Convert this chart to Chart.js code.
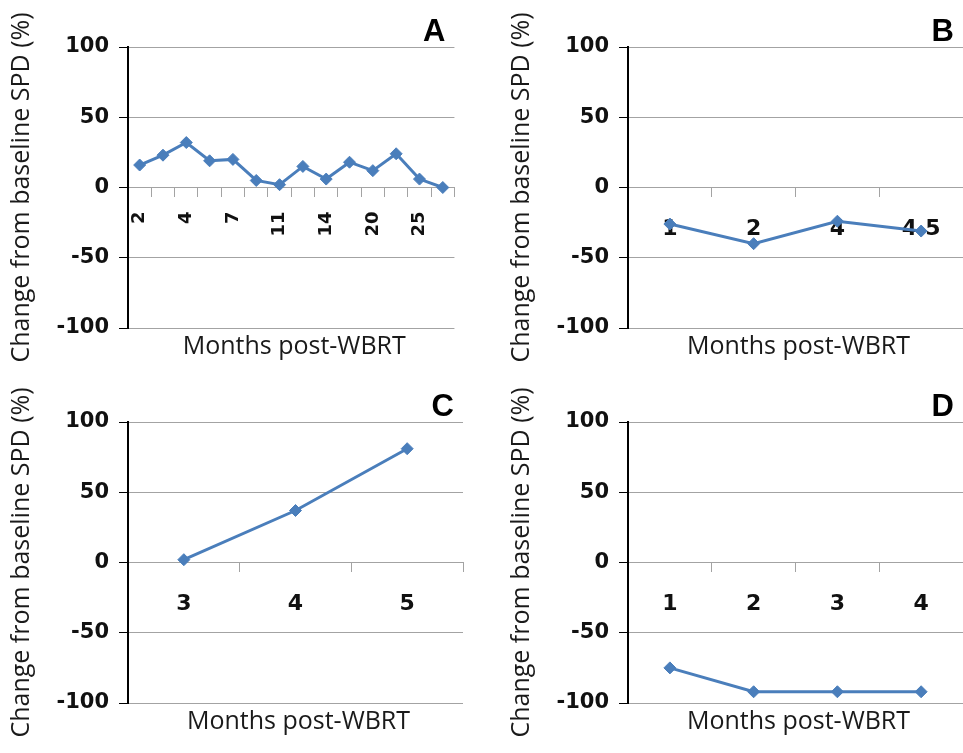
<!DOCTYPE html>
<html>
<head>
<meta charset="utf-8">
<script src="https://cdn.jsdelivr.net/npm/chart.js@4.4.1/dist/chart.umd.min.js"></script>
<style>
  html, body { margin: 0; padding: 0; background: #fff; overflow: hidden; }
  body { width: 963px; height: 753px; position: relative; }
  .panel { position: absolute; width: 480px; height: 378px; }
</style>
</head>
<body>
<div class="panel" style="left:0;top:0"><canvas id="chartA" width="480" height="378"></canvas></div>
<div class="panel" style="left:500px;top:0"><canvas id="chartB" width="480" height="378"></canvas></div>
<div class="panel" style="left:0;top:375px"><canvas id="chartC" width="480" height="378"></canvas></div>
<div class="panel" style="left:500px;top:375px"><canvas id="chartD" width="480" height="378"></canvas></div>
<script>
// months post-WBRT (only every other label is printed in panel A)
const labelsA = ['2', '', '4', '', '7', '', '11', '', '14', '', '20', '', '25', ''];
const valuesA = [16, 23, 32, 19, 20, 5, 2, 15, 6, 18, 12, 24, 6, 0];

const labelsB = ['1', '2', '4', '4.5'];
const valuesB = [-26, -40, -24, -31];

const labelsC = ['3', '4', '5'];
const valuesC = [2, 37, 81];

const labelsD = ['1', '2', '3', '4'];
const valuesD = [-75, -92, -92, -92];

const yTitle = 'Change from baseline SPD (%)';
const xTitle = 'Months post-WBRT';

const BLUE = '#4a7ebb';
const GRID = '#a3a3a3';

// panel letter + x axis title drawn under the plot
const extrasPlugin = {
  id: 'extras',
  afterDraw(chart, args, opts) {
    const { ctx, chartArea } = chart;
    ctx.save();
    ctx.fillStyle = '#000';
    ctx.font = 'bold 31px "Liberation Sans"';
    ctx.textAlign = 'right';
    ctx.textBaseline = 'alphabetic';
    ctx.fillText(opts.letter, chartArea.right - 9, 41);

    ctx.fillStyle = '#1a1a1a';
    ctx.font = '25px "Open Sans"';
    ctx.textAlign = 'center';
    ctx.textBaseline = 'middle';
    ctx.fillText(xTitle, (chartArea.left + chartArea.right) / 2 + 3, 347);
    ctx.restore();
  }
};

function makePanel(id, letter, labels, values, rotated) {
  const ctx = document.getElementById(id).getContext('2d');
  return new Chart(ctx, {
    type: 'line',
    data: {
      labels: labels,
      datasets: [{
        data: values,
        borderColor: BLUE,
        backgroundColor: BLUE,
        borderWidth: 3,
        tension: 0,
        pointStyle: 'rectRot',
        pointRadius: 6,
        pointBorderWidth: 1
      }]
    },
    options: {
      responsive: false,
      animation: false,
      devicePixelRatio: 1,
      layout: { padding: { top: 47, right: 17, bottom: 50, left: 0 } },
      plugins: {
        legend: { display: false },
        tooltip: { enabled: false },
        extras: { letter: letter }
      },
      scales: {
        x: {
          type: 'category',
          offset: true,
          position: { y: 0 },
          grid: { drawOnChartArea: false, offset: true, tickLength: 9, color: GRID },
          border: { color: GRID, width: 1 },
          ticks: {
            autoSkip: false,
            minRotation: rotated ? 90 : 0,
            maxRotation: rotated ? 90 : 0,
            padding: rotated ? 15 : 20,
            color: '#111',
            font: { family: 'DejaVu Sans', weight: 'bold', size: rotated ? 18 : 22 }
          }
        },
        y: {
          min: -100,
          max: 100,
          afterFit: s => { s.width = 128; },
          ticks: {
            stepSize: 50,
            padding: 10,
            color: '#111',
            font: { family: 'DejaVu Sans', weight: 'bold', size: 21 }
          },
          grid: { color: GRID, tickLength: 9, tickColor: '#000' },
          border: { color: '#000', width: 2 },
          title: {
            display: true,
            text: yTitle,
            color: '#1a1a1a',
            font: { family: 'Open Sans', size: 25 },
            padding: { top: 7, bottom: 0 }
          }
        }
      }
    },
    plugins: [extrasPlugin]
  });
}

makePanel('chartA', 'A', labelsA, valuesA, true);
makePanel('chartB', 'B', labelsB, valuesB, false);
makePanel('chartC', 'C', labelsC, valuesC, false);
makePanel('chartD', 'D', labelsD, valuesD, false);
</script>
</body>
</html>
